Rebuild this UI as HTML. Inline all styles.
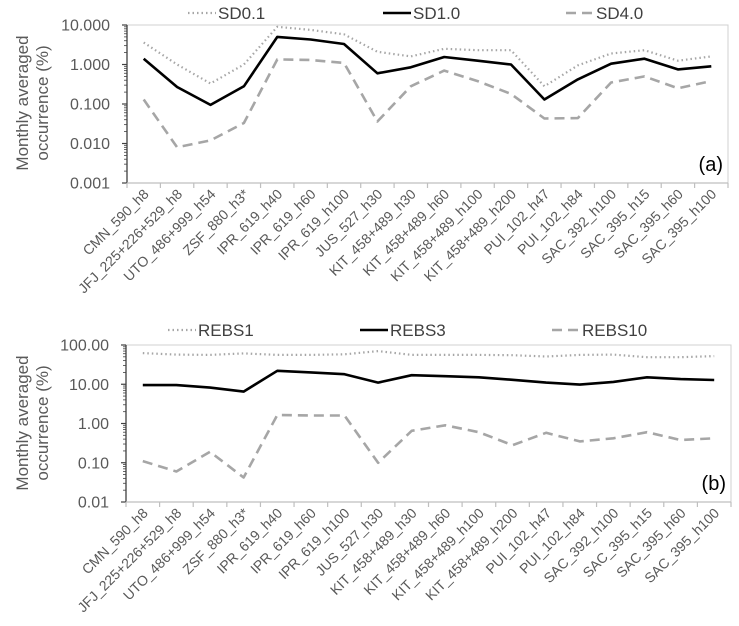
<!DOCTYPE html>
<html><head><meta charset="utf-8">
<style>
html,body{margin:0;padding:0;background:#fff;}
svg{display:block;font-family:"Liberation Sans",sans-serif;}
</style></head>
<body>
<svg id="chart" width="739" height="626" viewBox="0 0 739 626" xmlns="http://www.w3.org/2000/svg"></svg>
<script>
const categories = ["CMN_590_h8","JFJ_225+226+529_h8","UTO_486+999_h54","ZSF_880_h3*","IPR_619_h40","IPR_619_h60","IPR_619_h100","JUS_527_h30","KIT_458+489_h30","KIT_458+489_h60","KIT_458+489_h100","KIT_458+489_h200","PUI_102_h47","PUI_102_h84","SAC_392_h100","SAC_395_h15","SAC_395_h60","SAC_395_h100"];
const sd01 = [3.6,1.0,0.33,1.0,9.0,7.5,5.8,2.1,1.6,2.5,2.3,2.3,0.28,0.95,1.9,2.3,1.25,1.6];
const sd10 = [1.4,0.27,0.095,0.28,5.0,4.3,3.3,0.6,0.85,1.55,1.25,1.0,0.13,0.42,1.05,1.4,0.75,0.9];
const sd40 = [0.13,0.008,0.012,0.033,1.35,1.3,1.1,0.036,0.28,0.7,0.38,0.18,0.043,0.044,0.35,0.5,0.25,0.38];
const rebs1 = [62,57,56,61,56,56,58,70,56,56,56,55,51,56,57,49,49,52];
const rebs3 = [9.5,9.5,8.2,6.5,22,20,18,11,17,16,15,13,11,9.8,11.5,15,13.5,12.8];
const rebs10 = [0.11,0.06,0.19,0.042,1.65,1.6,1.6,0.1,0.65,0.9,0.6,0.28,0.58,0.35,0.42,0.6,0.38,0.42];
const ticksA = ["0.001","0.010","0.100","1.000","10.000"];
const ticksB = ["0.01","0.10","1.00","10.00","100.00"];

const NS="http://www.w3.org/2000/svg";
const svg=document.getElementById('chart');
function mk(tag,attrs,parent){const e=document.createElementNS(NS,tag);for(const k in attrs)e.setAttribute(k,attrs[k]);(parent||svg).appendChild(e);return e;}

const styles={
  dot:{stroke:"#a6a6a6","stroke-width":2.2,"stroke-dasharray":"1.5 3","fill":"none"},
  solid:{stroke:"#000","stroke-width":2.6,"fill":"none"},
  dash:{stroke:"#a6a6a6","stroke-width":2.6,"stroke-dasharray":"10 6","fill":"none"}
};

function panel(cfg){
  const g=mk('g',{});
  
  
  const {x0,x1,yTop,yBot,minExp,maxExp}=cfg;
  const n=categories.length, step=(x1-x0)/n;
  const xs=i=>x0+step*(i+0.5);
  const ys=v=>yBot-(Math.log10(v)-minExp)/(maxExp-minExp)*(yBot-yTop);
  const fr=mk('rect',{x:x0,y:yTop,width:x1-x0,height:yBot-yTop,fill:"none",stroke:"#d0d0d0","stroke-width":1},g);
  
  
  const ya=mk('line',{x1:x0,y1:yTop,x2:x0,y2:yBot,stroke:"#404040","stroke-width":1.3},g);
  
  
  for(let e=minExp;e<=maxExp;e++){
    const y=ys(Math.pow(10,e));
    mk('line',{x1:x0-5,y1:y,x2:x0,y2:y,stroke:"#404040","stroke-width":1.2},g);
    if(e<maxExp){for(let m=2;m<=9;m++){const yy=ys(m*Math.pow(10,e));mk('line',{x1:x0-3,y1:yy,x2:x0,y2:yy,stroke:"#404040","stroke-width":0.8},g);}}
    const t=mk('text',{x:x0-17,y:y+5.5,"text-anchor":"end","font-size":16,fill:"#595959"},g);
    t.textContent=cfg.ticks[e-minExp];
    
    
  }
  const xa=mk('line',{x1:x0,y1:yBot,x2:x1,y2:yBot,stroke:"#bfbfbf","stroke-width":1.3},g);
  
  
  for(let i=0;i<=n;i++){const x=x0+step*i;mk('line',{x1:x,y1:yBot,x2:x,y2:yBot+5,stroke:"#bfbfbf","stroke-width":1.2},g);}
  categories.forEach((c,i)=>{
    const cx=xs(i)+6, cy=yBot+12;
    const t=mk('text',{x:cx,y:cy,"text-anchor":"end","font-size":14,fill:"#595959",transform:`rotate(-45 ${cx} ${cy})`},g);
    t.textContent=c;
    
    
  });
  cfg.series.forEach(s=>{
    const d=s.data.map((v,i)=>(i?'L':'M')+xs(i).toFixed(1)+' '+ys(v).toFixed(1)).join(' ');
    const p=mk('path',Object.assign({d:d,"stroke-linejoin":"round"},styles[s.style]),g);
    
    
    const l=mk('line',Object.assign({x1:s.lx,y1:cfg.ly,x2:s.lx+28,y2:cfg.ly},styles[s.style]),g);
    
    
    const lt=mk('text',{x:s.lx+30,y:cfg.ly+6,"font-size":17,fill:"#404040"},g);
    lt.textContent=s.label;
    
    
  });
  const yt=mk('text',{transform:`translate(${cfg.tx} ${cfg.ty}) rotate(-90)`,"text-anchor":"middle","font-size":17,fill:"#595959"},g);
  
  
  const t1=mk('tspan',{x:0,y:0},yt);t1.textContent="Monthly averaged";
  const t2=mk('tspan',{x:0,y:20},yt);t2.textContent="occurrence (%)";
  const pl=mk('text',{x:x1-5,y:yBot-12,"text-anchor":"end","font-size":20,fill:"#000"},g);
  pl.textContent=cfg.panelLabel;
  
  
}

panel({name:'panel-a',x0:127,x1:728,yTop:25,yBot:183,minExp:-3,maxExp:1,ticks:ticksA,ly:13,tx:28,ty:103,panelLabel:"(a)",
  series:[{label:"SD0.1",data:sd01,style:'dot',lx:188},{label:"SD1.0",data:sd10,style:'solid',lx:383},{label:"SD4.0",data:sd40,style:'dash',lx:566}]});
panel({name:'panel-b',x0:126,x1:731,yTop:345,yBot:502,minExp:-2,maxExp:2,ticks:ticksB,ly:330,tx:28,ty:423,panelLabel:"(b)",
  series:[{label:"REBS1",data:rebs1,style:'dot',lx:168},{label:"REBS3",data:rebs3,style:'solid',lx:360},{label:"REBS10",data:rebs10,style:'dash',lx:552}]});
</script>
</body></html>
